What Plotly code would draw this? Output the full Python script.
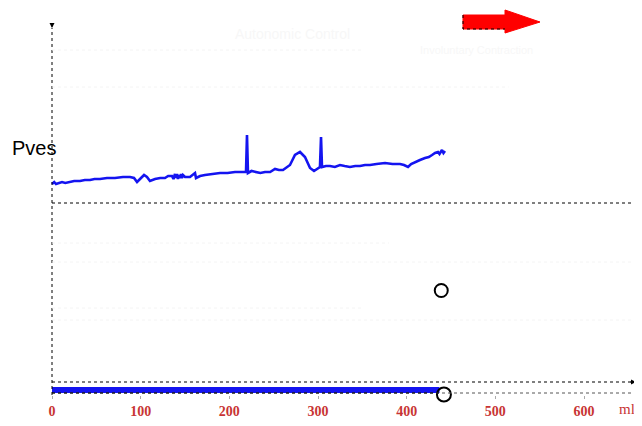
import plotly.graph_objects as go

# ---- data ----
pves_vol = [0, 2.5, 4.5, 8, 11.3, 15, 20.3, 25, 31.6, 37, 42.9, 48, 54.1, 62, 71, 80, 88,
            92.5, 95.9, 99.2, 103.8, 107.1, 110.5, 116.2, 122, 127.4, 131, 135.3, 137,
            138.7, 140, 141, 142, 143.2, 144.5, 145.5, 146.5, 147.7, 150, 155.6, 161.3,
            162.4, 167, 172.5, 180, 189.5, 198, 206.4, 213, 218.8, 219.9, 221, 225, 229,
            235, 240.2, 246, 251.5, 256, 260.5, 264, 268.4, 274, 279.7, 285.3, 291,
            295.5, 300, 302.2, 303.4, 304.5, 309, 313.5, 319, 324.8, 330, 336, 342,
            347.4, 353, 358.6, 366, 375.6, 384, 392.5, 397, 401.5, 405, 409.4, 415,
            420.7, 425, 428.6, 432, 435.3, 437, 439.8, 441.5, 443.2]
pves_cmh2o = [19, 21, 19, 20, 21, 20, 21, 22, 22, 23, 23, 24, 24, 25, 25, 26, 26,
              25, 21, 24, 28, 26, 22, 24, 25, 25, 27, 27, 24,
              29, 25, 29, 24, 28, 25, 29, 25, 28, 26, 26, 30,
              25, 27, 28, 29, 30, 30, 31, 31, 31, 68, 30, 32, 31,
              30, 31, 31, 34, 33, 33, 35, 38, 48, 51, 46, 35,
              32, 35, 36, 66, 36, 37, 37, 36, 38, 37, 36, 37,
              37, 38, 38, 39, 40, 39, 39, 38, 36, 39, 41, 43,
              45, 46, 48, 50, 51, 49, 53, 50, 52]

vinf_vol = [0, 437]          # infused volume bar (ml)
vinf_level = [0, 0]

event_vol_pves = [439]       # end-of-filling markers
event_pves = [-87.5]
event_vol_vinf = [442]
event_vinf = [-4.5]

x_ticks = [0, 100, 200, 300, 400, 500, 600]
x_tick_text = ["0", "100", "200", "300", "400", "500", "600"]
unit_label = "ml"
channel_label = "Pves"
faint_title = "Autonomic Control"
arrow_label = "Involuntary Contraction"

# ---- figure geometry (page body adds an 8px margin) ----
OFF = 8
W, H = 642 - OFF, 426 - OFF
AXIS_ROW = 395                    # reference row of the plot bottom
PLOT_H = AXIS_ROW - OFF           # plot area height in figure px
SCALE = 0.8867                    # px per ml
X_MIN = -(52 - OFF) / SCALE
X_MAX = X_MIN + W / SCALE
X_END = 658.6

RED = "#c83434"
BLUE = "#1414f0"

fig = go.Figure()

fig.add_trace(go.Scatter(x=pves_vol, y=pves_cmh2o, mode="lines",
                         line=dict(color=BLUE, width=2.6), yaxis="y",
                         showlegend=False, hoverinfo="skip"))
fig.add_trace(go.Scatter(x=vinf_vol, y=vinf_level, mode="lines",
                         line=dict(color=BLUE, width=6), yaxis="y2",
                         showlegend=False, hoverinfo="skip"))
fig.add_trace(go.Scatter(x=event_vol_pves, y=event_pves, mode="markers",
                         marker=dict(symbol="circle-open", size=13, color="black",
                                     line=dict(width=2, color="black")),
                         yaxis="y", showlegend=False, hoverinfo="skip"))
fig.add_trace(go.Scatter(x=event_vol_vinf, y=event_vinf, mode="markers",
                         marker=dict(symbol="circle-open", size=14, color="black",
                                     line=dict(width=2, color="black")),
                         yaxis="y2", cliponaxis=False,
                         showlegend=False, hoverinfo="skip"))

shapes = []
shapes.append(dict(type="line", xref="x", yref="y", x0=0, x1=X_END, y0=0, y1=0,
                   line=dict(color="black", width=1, dash="dot")))
shapes.append(dict(type="line", xref="x", yref="y2", x0=0, x1=X_END, y0=8, y1=8,
                   line=dict(color="black", width=1.2, dash="dot")))
shapes.append(dict(type="line", xref="x", yref="y2", x0=0, x1=X_END, y0=-3, y1=-3,
                   line=dict(color="#555", width=1, dash="dot")))
shapes.append(dict(type="line", xref="x", yref="y2", x0=0, x1=437, y0=-3, y1=-3,
                   line=dict(color="black", width=1, dash="dot")))
shapes.append(dict(type="line", xref="x", yref="y2", x0=0, x1=0, y0=-5, y1=362,
                   line=dict(color="black", width=1, dash="dot")))
for row, x1 in [(50, 350), (87, 515), (243, 380), (262, X_END), (308, 350), (320, X_END)]:
    shapes.append(dict(type="line", xref="x", yref="y", x0=0, x1=x1,
                       y0=203 - row, y1=203 - row,
                       line=dict(color="#f4f4f4", width=1, dash="dot")))


def px(ref_x):
    return (ref_x - OFF) / W


def py(ref_row):
    return (AXIS_ROW - ref_row) / PLOT_H


arrow_path = "M {} {} L {} {} L {} {} L {} {} L {} {} L {} {} L {} {} Z".format(
    px(463), py(15), px(505), py(15), px(505), py(10), px(540), py(22),
    px(505), py(33), px(505), py(29), px(463), py(29))
shapes.append(dict(type="path", xref="paper", yref="paper", path=arrow_path,
                   fillcolor="#ff0000", line=dict(color="#ff0000", width=1)))
shapes.append(dict(type="path", xref="paper", yref="paper",
                   path="M {} {} L {} {} L {} {}".format(px(463), py(15), px(463), py(29),
                                                         px(505), py(29)),
                   line=dict(color="black", width=1, dash="dot")))

annotations = [
    dict(x=-47.4, y=55, xref="x", yref="y", text=channel_label, showarrow=False,
         xanchor="left", yanchor="middle",
         font=dict(family="Liberation Sans", size=20, color="black")),
    dict(x=648, y=py(409), xref="x", yref="paper", text=unit_label, showarrow=False,
         xanchor="center", yanchor="middle",
         font=dict(family="Liberation Serif", size=15, color=RED)),
    dict(x=px(292), y=py(24), xref="paper", yref="paper", text=faint_title,
         showarrow=False, font=dict(family="Liberation Sans", size=14, color="#f7f7f7")),
    dict(x=px(535), y=py(42), xref="paper", yref="paper", text=arrow_label,
         showarrow=False, font=dict(family="Liberation Sans", size=11, color="#f7f7f7")),
    dict(x=0, y=362, xref="x", yref="y2", ax=0, ay=368, axref="x", ayref="y2",
         showarrow=True, arrowhead=2, arrowsize=1, arrowwidth=1, arrowcolor="black", text=""),
    dict(x=X_END, y=8, xref="x", yref="y2", ax=X_END - 8, ay=8, axref="x", ayref="y2",
         showarrow=True, arrowhead=2, arrowsize=1, arrowwidth=1, arrowcolor="black", text=""),
]

fig.update_layout(
    width=W, height=H,
    margin=dict(l=0, r=0, t=0, b=H - PLOT_H),
    paper_bgcolor="white", plot_bgcolor="white",
    shapes=shapes, annotations=annotations,
    xaxis=dict(range=[X_MIN, X_MAX], tickvals=x_ticks, ticktext=x_tick_text,
               showgrid=False, zeroline=False, showline=False,
               ticks="outside", ticklen=3, tickcolor="#aaaaaa",
               tickfont=dict(family="Liberation Serif", size=14, color=RED,
                             weight="bold")),
    yaxis=dict(range=[203 - AXIS_ROW, 203 - OFF], visible=False, showgrid=False,
               zeroline=False),
    yaxis2=dict(range=[390 - AXIS_ROW, 390 - OFF], overlaying="y", visible=False,
                showgrid=False, zeroline=False),
    showlegend=False,
)

fig.write_html("out.html")
